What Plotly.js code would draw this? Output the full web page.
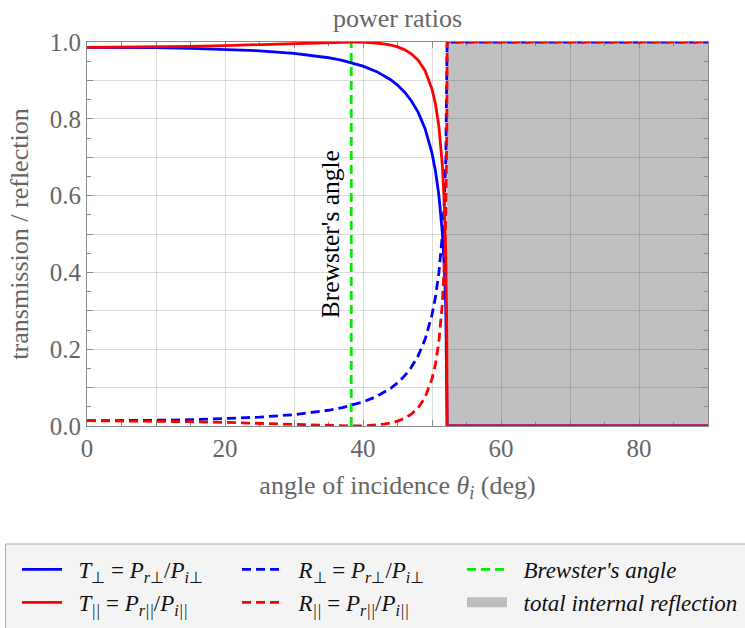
<!DOCTYPE html>
<html>
<head>
<meta charset="utf-8">
<script src="https://cdn.plot.ly/plotly-3.0.1.min.js"></script>
<style>
  html, body { margin: 0; padding: 0; background: #fff; }
  #chart { width: 745px; height: 628px; }
</style>
</head>
<body>
<div id="chart"></div>
<script>
// Fresnel power ratios for internal incidence (dense -> rare medium)
const angle = [0, 5, 10, 15, 20, 25, 30, 32, 35, 37, 38.3, 40, 42, 43, 44, 45, 46, 47, 48, 49, 50, 50.5, 51, 51.5, 51.8, 52, 52.15, 52.19, 60, 70, 80, 90];
const Tperp = [0.9862, 0.9860, 0.9851, 0.9836, 0.9810, 0.9770, 0.9704, 0.9666, 0.9590, 0.9521, 0.9465, 0.9373, 0.9228, 0.9134, 0.9019, 0.8878, 0.8701, 0.8472, 0.8168, 0.7743, 0.7106, 0.6644, 0.6007, 0.5032, 0.4087, 0.3058, 0.1490, 0, 0, 0, 0, 0];
const Tpar  = [0.9862, 0.9865, 0.9873, 0.9887, 0.9906, 0.9932, 0.9962, 0.9974, 0.9991, 0.9998, 1.0000, 0.9996, 0.9975, 0.9954, 0.9922, 0.9874, 0.9802, 0.9693, 0.9524, 0.9251, 0.8774, 0.8386, 0.7800, 0.6800, 0.5724, 0.4442, 0.2279, 0, 0, 0, 0, 0];
const Rperp = [0.0138, 0.0140, 0.0149, 0.0164, 0.0190, 0.0230, 0.0296, 0.0334, 0.0410, 0.0479, 0.0535, 0.0627, 0.0772, 0.0866, 0.0981, 0.1122, 0.1299, 0.1528, 0.1832, 0.2257, 0.2894, 0.3356, 0.3993, 0.4968, 0.5913, 0.6942, 0.8510, 1, 1, 1, 1, 1];
const Rpar  = [0.0138, 0.0135, 0.0127, 0.0113, 0.0094, 0.0068, 0.0038, 0.0026, 0.0009, 0.0002, 0.0000, 0.0004, 0.0025, 0.0046, 0.0078, 0.0126, 0.0198, 0.0307, 0.0476, 0.0749, 0.1226, 0.1614, 0.2200, 0.3200, 0.4276, 0.5558, 0.7721, 1, 1, 1, 1, 1];

const brewsterAngle = 38.3;
const criticalAngle = 52.19;
const maxAngle = 90;

const xTickVals = [0, 10, 20, 30, 40, 50, 60, 70, 80, 90];
const xTickText = ['0', '', '20', '', '40', '', '60', '', '80', ''];
const yTickVals = [0, 0.1, 0.2, 0.3, 0.4, 0.5, 0.6, 0.7, 0.8, 0.9, 1.0];
const yTickText = ['0.0', '', '0.2', '', '0.4', '', '0.6', '', '0.8', '', '1.0'];

const SERIF = 'Liberation Serif, Times New Roman, serif';
const GREY_TEXT = '#666666';
const AXIS_GREY = '#8a8a8a';
const DASH = '9px,5px';
const LW = 2.8;
const PAD = '\u2002';

// plot-area geometry in pixels, used for paper-referenced placement
const PLOT_L = 87, PLOT_W = 621, PLOT_B = 426, PLOT_H = 384;
const px2paperX = (px) => (px - PLOT_L) / PLOT_W;
const px2paperY = (py) => (PLOT_B - py) / PLOT_H;

const traces = [
  {
    x: [brewsterAngle, brewsterAngle], y: [0, 1],
    mode: 'lines', line: {color: '#00ee00', width: LW, dash: DASH}, cliponaxis: false,
    name: PAD + "<i>Brewster's angle</i>", legend: 'legend3', legendrank: 1
  },
  {
    x: angle, y: Tperp, mode: 'lines', cliponaxis: false,
    line: {color: '#0000ff', width: LW},
    name: PAD + '<i>T</i><sub>⊥</sub> = <i>P</i><sub><i>r</i>⊥</sub>/<i>P</i><sub><i>i</i>⊥</sub>', legend: 'legend', legendrank: 1
  },
  {
    x: angle, y: Rperp, mode: 'lines', cliponaxis: false,
    line: {color: '#0000ff', width: LW, dash: DASH},
    name: PAD + '<i>R</i><sub>⊥</sub> = <i>P</i><sub><i>r</i>⊥</sub>/<i>P</i><sub><i>i</i>⊥</sub>', legend: 'legend2', legendrank: 1
  },
  {
    x: angle, y: Tpar, mode: 'lines', cliponaxis: false,
    line: {color: '#ff0000', width: LW},
    name: PAD + '<i>T</i><sub><i>||</i></sub> = <i>P</i><sub><i>r||</i></sub>/<i>P</i><sub><i>i||</i></sub>', legend: 'legend', legendrank: 2
  },
  {
    x: angle, y: Rpar, mode: 'lines', cliponaxis: false,
    line: {color: '#ff0000', width: LW, dash: DASH},
    name: PAD + '<i>R</i><sub><i>||</i></sub> = <i>P</i><sub><i>r||</i></sub>/<i>P</i><sub><i>i||</i></sub>', legend: 'legend2', legendrank: 2
  },
  {
    // legend key for the shaded total-internal-reflection band
    x: [null], y: [null], mode: 'lines',
    line: {color: '#bdbdbd', width: 13},
    name: PAD + '<i>total internal reflection</i>', legend: 'legend3', legendrank: 2
  }
];

const axisCommon = {
  automargin: false, layer: 'below traces',
  showline: true, linecolor: AXIS_GREY, linewidth: 1, mirror: 'ticks',
  ticks: 'inside', ticklen: 6, tickcolor: AXIS_GREY, tickwidth: 1,
  showgrid: true, gridcolor: 'rgba(0,0,0,0.14)', gridwidth: 1,
  zeroline: false,
  tickfont: {family: SERIF, size: 25, color: GREY_TEXT}
};

// three legend columns side by side
const legendColumn = (leftPx) => ({
  orientation: 'v', traceorder: 'normal',
  xref: 'paper', yref: 'container',
  x: px2paperX(leftPx), xanchor: 'left',
  y: 1 - 548 / 628, yanchor: 'top',
  bgcolor: 'rgba(0,0,0,0)', borderwidth: 0,
  itemwidth: 40, tracegroupgap: 0,
  font: {family: SERIF, size: 23, color: '#111111'}
});

const layout = {
  width: 745, height: 628,
  margin: {l: PLOT_L, r: 745 - PLOT_L - PLOT_W, t: PLOT_B - PLOT_H, b: 628 - PLOT_B, autoexpand: false},
  paper_bgcolor: '#ffffff', plot_bgcolor: '#ffffff',
  font: {family: SERIF},
  title: {
    text: 'power ratios',
    font: {family: SERIF, size: 26, color: GREY_TEXT},
    x: 0.5, xref: 'paper', y: 1 - 18 / 628, yref: 'container', yanchor: 'middle',
    automargin: false
  },
  xaxis: Object.assign({}, axisCommon, {
    range: [0, maxAngle], tickmode: 'array', tickvals: xTickVals, ticktext: xTickText,
    minor: {dtick: 5, ticks: 'inside', ticklen: 4, tickcolor: AXIS_GREY, showgrid: false},
    title: {text: 'angle of incidence <i>θ<sub>i</sub></i> (deg)', font: {family: SERIF, size: 26, color: GREY_TEXT}, standoff: 14}
  }),
  yaxis: Object.assign({}, axisCommon, {
    range: [0, 1], tickmode: 'array', tickvals: yTickVals, ticktext: yTickText,
    minor: {dtick: 0.05, ticks: 'inside', ticklen: 4, tickcolor: AXIS_GREY, showgrid: false},
    title: {text: 'transmission / reflection', font: {family: SERIF, size: 26, color: GREY_TEXT}, standoff: 13}
  }),
  shapes: [
    {
      // region beyond the critical angle, under the grid
      type: 'rect', xref: 'x', yref: 'y', layer: 'below',
      x0: criticalAngle, x1: maxAngle, y0: 0, y1: 1,
      fillcolor: '#c0c0c0', line: {width: 0}
    },
    {
      // legend panel
      type: 'rect', xref: 'paper', yref: 'paper', layer: 'above',
      x0: px2paperX(5.5), x1: px2paperX(760),
      y0: px2paperY(544), y1: px2paperY(660),
      fillcolor: '#f4f4f4', line: {color: '#aaaaaa', width: 1}
    }
  ],
  annotations: [
    {
      x: brewsterAngle, y: 0.5, xref: 'x', yref: 'y',
      text: "Brewster's angle", textangle: -90, showarrow: false,
      xanchor: 'center', yanchor: 'middle', xshift: -21,
      font: {family: SERIF, size: 25.5, color: '#000000'}
    }
  ],
  showlegend: true,
  legend: legendColumn(17),
  legend2: legendColumn(237),
  legend3: legendColumn(462)
};

Plotly.newPlot('chart', traces, layout, {displayModeBar: false, staticPlot: true});
</script>
</body>
</html>
